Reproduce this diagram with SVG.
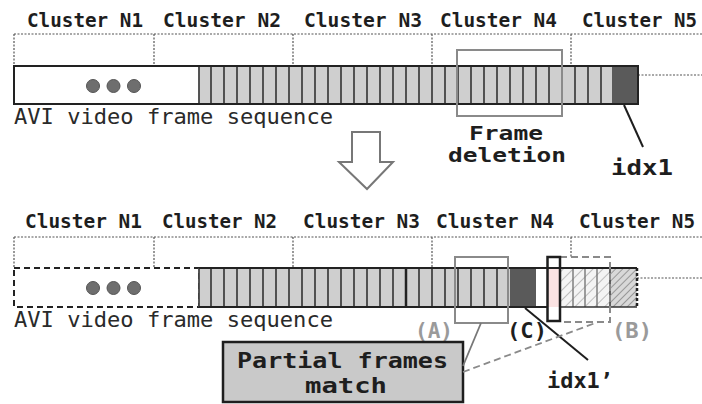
<svg xmlns="http://www.w3.org/2000/svg" width="702" height="404" viewBox="0 0 702 404">
<defs>
<style>
.cl{font-family:"DejaVu Sans Mono","Liberation Mono",monospace;font-weight:bold;font-size:20px;fill:#1e1e1e}
.seq{font-family:"DejaVu Sans Mono","Liberation Mono",monospace;font-size:22px;fill:#2a2a2a}
.lbl{font-family:"DejaVu Sans Mono","Liberation Mono",monospace;font-weight:bold;font-size:21px;fill:#1e1e1e}
.fd{font-family:"DejaVu Sans Mono","Liberation Mono",monospace;font-weight:bold;font-size:20px;fill:#1e1e1e}
.gl{font-family:"DejaVu Sans Mono","Liberation Mono",monospace;font-weight:bold;font-size:21px;fill:#9a9a9a}
.dash{fill:none;stroke:#555;stroke-width:1.2;stroke-dasharray:2 1.5}
.fr{fill:#cfcfcf}
.div{stroke:#444;stroke-width:1.8;fill:none}
.out{fill:none;stroke:#222;stroke-width:2}
.dot{fill:#6e6e6e;stroke:#555;stroke-width:1}
.gbox{fill:none;stroke:#8a8a8a;stroke-width:2}
</style>
<pattern id="h1" patternUnits="userSpaceOnUse" width="7" height="7" patternTransform="rotate(45)">
<rect width="7" height="7" fill="#f4f4f4"/>
<line x1="0" y1="0" x2="0" y2="7" stroke="#bdbdbd" stroke-width="2"/>
</pattern>
<pattern id="h2" patternUnits="userSpaceOnUse" width="5" height="5" patternTransform="rotate(45)">
<rect width="5" height="5" fill="#d8d8d8"/>
<line x1="0" y1="0" x2="0" y2="5" stroke="#888" stroke-width="1.6"/>
</pattern>
</defs>
<rect width="702" height="404" fill="#fff"/>

<!-- TOP -->
<g id="top-clusters">
<text class="cl" x="27" y="27" textLength="116" lengthAdjust="spacingAndGlyphs">Cluster N1</text>
<text class="cl" x="163" y="27" textLength="118" lengthAdjust="spacingAndGlyphs">Cluster N2</text>
<text class="cl" x="304" y="27" textLength="118" lengthAdjust="spacingAndGlyphs">Cluster N3</text>
<text class="cl" x="440" y="27" textLength="117" lengthAdjust="spacingAndGlyphs">Cluster N4</text>
<text class="cl" x="582" y="27" textLength="115" lengthAdjust="spacingAndGlyphs">Cluster N5</text>
<path class="dash" d="M14 34 H702 M14 34 V66 M154 34 V66 M293 34 V66 M432 34 V66 M571 34 V66 M638 75 H702"/>
</g>

<g id="top-bar">
<rect x="14" y="66" width="185" height="38" fill="#fff"/>
<circle class="dot" cx="93" cy="86" r="6.5"/>
<circle class="dot" cx="113.5" cy="86" r="6.5"/>
<circle class="dot" cx="134" cy="86" r="6.5"/>
<rect class="fr" x="199" y="66" width="413" height="38"/>
<path class="div" d="M199 66V104 M211 66V104 M224 66V104 M237 66V104 M250 66V104 M263 66V104 M276 66V104 M289 66V104 M302 66V104 M315 66V104 M328 66V104 M341 66V104 M354 66V104 M367 66V104 M380 66V104 M393 66V104 M406 66V104 M419 66V104 M432 66V104 M445 66V104 M458 66V104 M471 66V104 M484 66V104 M497 66V104 M510 66V104 M523 66V104 M536 66V104 M549 66V104 M562 66V104 M575 66V104 M588 66V104 M601 66V104"/>
<rect x="612" y="66" width="26" height="38" fill="#5a5a5a"/>
<rect class="out" x="14" y="66" width="624" height="38"/>
</g>
<text class="seq" x="14" y="124" textLength="319" lengthAdjust="spacingAndGlyphs">AVI video frame sequence</text>

<g id="frame-deletion">
<rect class="gbox" x="457" y="50" width="105" height="66"/>
<text class="fd" x="506" y="140" text-anchor="middle" textLength="74" lengthAdjust="spacingAndGlyphs">Frame</text>
<text class="fd" x="507" y="162" text-anchor="middle" textLength="118" lengthAdjust="spacingAndGlyphs">deletion</text>
</g>

<g id="idx1">
<text class="lbl" x="611" y="175" textLength="62" lengthAdjust="spacingAndGlyphs">idx1</text>
</g>

<g id="arrow">
<path d="M352 132 H380 V162 H393 L367 189 L339 162 H352 Z" fill="#fff" stroke="#777" stroke-width="2" stroke-linejoin="miter"/>
</g>

<!-- BOTTOM -->
<g id="bottom-clusters">
<text class="cl" x="25" y="228" textLength="117" lengthAdjust="spacingAndGlyphs">Cluster N1</text>
<text class="cl" x="162" y="228" textLength="115" lengthAdjust="spacingAndGlyphs">Cluster N2</text>
<text class="cl" x="303" y="228" textLength="117" lengthAdjust="spacingAndGlyphs">Cluster N3</text>
<text class="cl" x="436" y="228" textLength="118" lengthAdjust="spacingAndGlyphs">Cluster N4</text>
<text class="cl" x="579" y="228" textLength="116" lengthAdjust="spacingAndGlyphs">Cluster N5</text>
<path class="dash" d="M14 237 H702 M14 237 V268 M154 237 V268 M293 237 V268 M432 237 V268 M571 237 V257 M637 278 H702"/>
</g>

<g id="bottom-bar">
<rect x="14" y="268" width="185" height="39" fill="#fff" stroke="#222" stroke-width="2" stroke-dasharray="6 4"/>
<circle class="dot" cx="93" cy="288" r="6.5"/>
<circle class="dot" cx="113.5" cy="288" r="6.5"/>
<circle class="dot" cx="134" cy="288" r="6.5"/>
<rect class="fr" x="199" y="268" width="311" height="39"/>
<path class="div" d="M199 268V307 M211 268V307 M224 268V307 M237 268V307 M250 268V307 M263 268V307 M276 268V307 M289 268V307 M302 268V307 M315 268V307 M328 268V307 M341 268V307 M354 268V307 M367 268V307 M380 268V307 M393 268V307 M406 268V307 M419 268V307 M432 268V307 M445 268V307 M458 268V307 M471 268V307 M484 268V307 M497 268V307"/>
<path d="M406 268V307" stroke="#222" stroke-width="2.5"/>
<rect x="510" y="268" width="26" height="39" fill="#5a5a5a"/>
<rect x="548" y="268" width="12" height="39" fill="#fbe3e3"/>
<rect x="560" y="268" width="50" height="39" fill="url(#h1)"/>
<path d="M573 268V307 M585 268V307 M597 268V307" stroke="#777" stroke-width="1.4"/>
<rect x="610" y="268" width="27" height="39" fill="url(#h2)"/>
<path d="M610 268V307" stroke="#444" stroke-width="1.6"/>
<path d="M199 268 H637 M199 307 H548" stroke="#222" stroke-width="2" fill="none"/>
<path d="M560 307 H637" stroke="#333" stroke-width="1.5" fill="none"/>
<path d="M637 268 V307" stroke="#222" stroke-width="2.5" stroke-dasharray="3 2" fill="none"/>
</g>
<text class="seq" x="14" y="327" textLength="319" lengthAdjust="spacingAndGlyphs">AVI video frame sequence</text>

<g id="box-A">
<rect class="gbox" x="455" y="257" width="53" height="66"/>
<text class="gl" x="415" y="338" textLength="38" lengthAdjust="spacingAndGlyphs">(A)</text>
</g>
<g id="box-B">
<path d="M560 257 H610 V322 H560" fill="none" stroke="#8a8a8a" stroke-width="2" stroke-dasharray="7 4"/>
<text class="gl" x="612" y="338" textLength="40" lengthAdjust="spacingAndGlyphs">(B)</text>
</g>
<g id="box-C">
<rect x="547.5" y="257" width="12.5" height="64" fill="none" stroke="#1e1e1e" stroke-width="2.5"/>
<text class="lbl" x="507" y="338" textLength="40" lengthAdjust="spacingAndGlyphs">(C)</text>
</g>

<g id="partial-match">
<rect x="223" y="342" width="240" height="60" fill="#c9c9c9" stroke="#1e1e1e" stroke-width="2.5"/>
<text class="lbl" x="237" y="368" textLength="211" lengthAdjust="spacingAndGlyphs">Partial frames</text>
<text class="lbl" x="346" y="393" text-anchor="middle" textLength="82" lengthAdjust="spacingAndGlyphs">match</text>
</g>

<g id="idx1-prime">
<text class="lbl" x="547" y="388" textLength="66" lengthAdjust="spacingAndGlyphs">idx1’</text>
</g>

<g id="connectors">
<line x1="624" y1="105" x2="643" y2="147" stroke="#1e1e1e" stroke-width="2"/>
<line x1="525" y1="308" x2="588" y2="360" stroke="#1e1e1e" stroke-width="2"/>
<line x1="481" y1="323" x2="463" y2="366" stroke="#777" stroke-width="1.8"/>
<line x1="463" y1="372" x2="598" y2="322" stroke="#8a8a8a" stroke-width="1.8" stroke-dasharray="7 4"/>
</g>
</svg>
